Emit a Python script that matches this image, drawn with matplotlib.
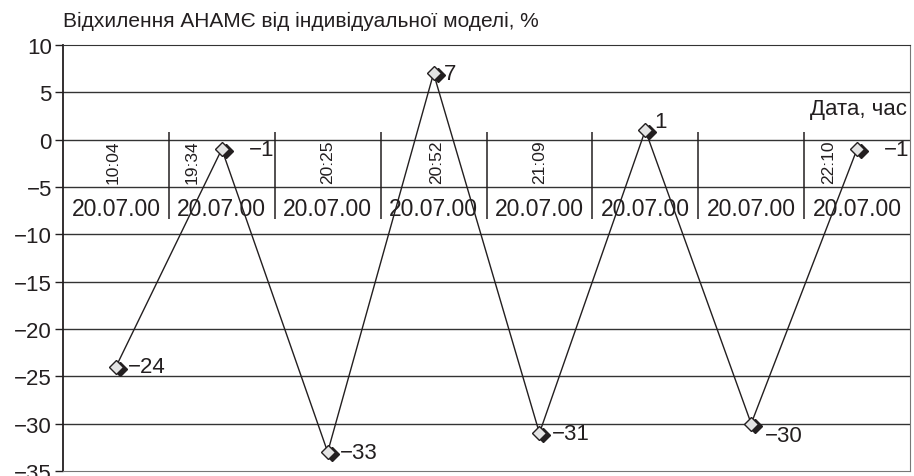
import matplotlib.pyplot as plt
from matplotlib.transforms import offset_copy
import numpy as np

plt.rcParams['font.family'] = ['Liberation Sans', 'DejaVu Sans']

# відхилення по кожному виміру, %
values = [-24, -1, -33, 7, -31, 1, -30, -1]
dates = ["20.07.00"] * 8
times = ["10:04", "19:34", "20:25", "20:52", "21:09", "", "", "22:10"]

title = "Відхилення АНАМЄ від індивідуальної моделі, %"
x_name = "Дата, час"

# зсув підпису часу всередині комірки (частка ширини)
time_shift = [-0.03, -0.28, 0, 0.03, 0, 0, 0, -0.27]
# зсув підписів значень, пікселі
lbl_dx = [12, 27, 12, 10, 12, 9, 14, 27]
lbl_dy = [0, 0, 0, 0, 0, 9, -12, 0]

ink = '#231f20'
x = np.arange(len(values)) + 0.5

fig = plt.figure(figsize=(9.14, 4.77), dpi=100)
ax = fig.add_axes([63/914, 5/477, 847/914, 426/477])

ax.set_xlim(0, len(values))
ax.set_ylim(-35, 10)
ax.set_yticks(np.arange(-35, 11, 5))
ax.set_xticks([])
ax.tick_params(axis='y', direction='out', length=6, width=1, labelsize=16, colors=ink, pad=2)
for yy in np.arange(-30, 10, 5):
    ax.axhline(yy, color='#333333', lw=1.0, zorder=1)
ax.spines['left'].set_color(ink)
ax.spines['left'].set_linewidth(1.3)
ax.spines['top'].set_color('#333333')
ax.spines['right'].set_color('#777777')
ax.spines['bottom'].set_color('#777777')

# сітка категорій на рівні нуля
ax.vlines(np.arange(1, len(values)), -8.4, 0.85, color=ink, lw=1.1, zorder=2)
for i in range(len(values)):
    ax.text(x[i], -7.3, dates[i], ha='center', va='center', fontsize=16.5, color=ink, zorder=3)
    if times[i]:
        ax.text(x[i] + time_shift[i], -4.6, times[i], rotation=90, ha='center', va='bottom',
                fontsize=12.5, color=ink, zorder=3)

ax.plot(x, values, color=ink, lw=1.0, zorder=4)
shadow = offset_copy(ax.transData, fig=fig, x=4, y=-2, units='dots')
ax.plot(x, values, ls='none', marker='D', ms=7.5, mfc=ink, mec=ink, transform=shadow, zorder=5)
ax.plot(x, values, ls='none', marker='D', ms=7.5, mfc='#e4e4e4', mec=ink, mew=1.0, zorder=6)

for i, v in enumerate(values):
    pos = offset_copy(ax.transData, fig=fig, x=lbl_dx[i], y=lbl_dy[i], units='dots')
    ax.text(x[i], v, str(v).replace('-', '\u2212'), transform=pos, ha='left', va='center',
            fontsize=16, color=ink, zorder=7)

ax.text(0.997, 3.3, x_name, transform=ax.get_yaxis_transform(), ha='right', va='center',
        fontsize=16, color=ink)
fig.text(63/914, 1 - 21/477, title, ha='left', va='center', fontsize=15, color=ink)

fig.savefig('out.png', dpi=100)
